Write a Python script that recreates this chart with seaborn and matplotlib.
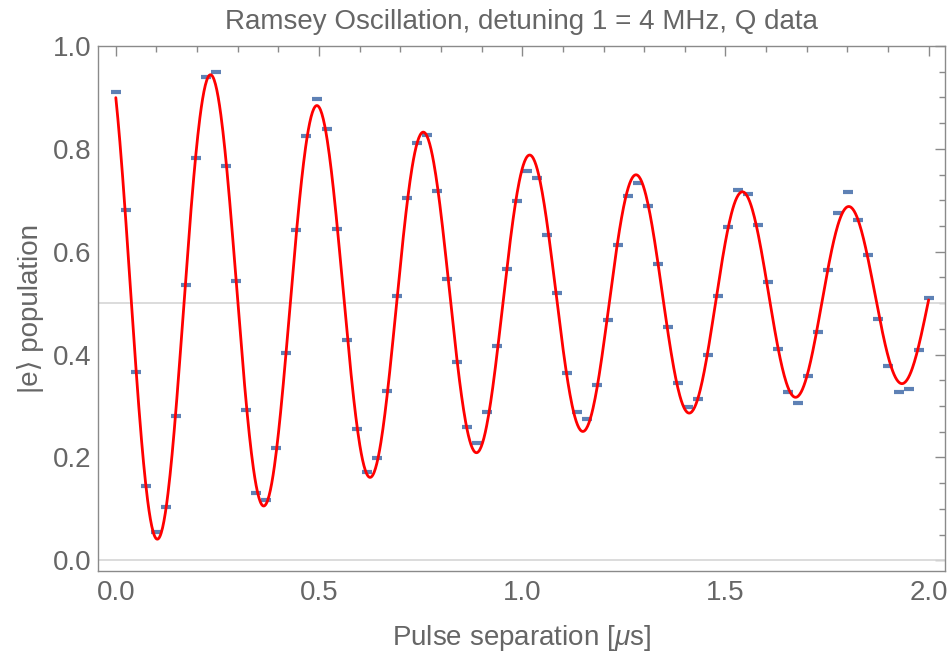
import numpy as np
import pandas as pd
import matplotlib
matplotlib.use("Agg")
import matplotlib.pyplot as plt
import seaborn as sns
from matplotlib.ticker import MultipleLocator

# ---- data ----
# 82 evenly spaced pulse separations from 0 to 2 us
separation_us = np.linspace(0.0, 2.0, 82)
population = [
    0.910, 0.682, 0.367, 0.145, 0.055, 0.103, 0.280, 0.535, 0.782, 0.940,
    0.949, 0.766, 0.543, 0.292, 0.130, 0.117, 0.218, 0.403, 0.642, 0.825,
    0.897, 0.838, 0.645, 0.428, 0.255, 0.172, 0.199, 0.330, 0.514, 0.705,
    0.812, 0.827, 0.719, 0.546, 0.386, 0.260, 0.229, 0.289, 0.416, 0.566,
    0.699, 0.757, 0.744, 0.633, 0.520, 0.365, 0.288, 0.275, 0.340, 0.468,
    0.613, 0.708, 0.733, 0.688, 0.577, 0.454, 0.345, 0.299, 0.313, 0.400,
    0.514, 0.649, 0.720, 0.713, 0.652, 0.541, 0.411, 0.328, 0.305, 0.359,
    0.443, 0.564, 0.676, 0.717, 0.662, 0.594, 0.469, 0.378, 0.327, 0.333,
    0.408, 0.510,
]
x_ticks = [0.0, 0.5, 1.0, 1.5, 2.0]
y_ticks = [0.0, 0.2, 0.4, 0.6, 0.8, 1.0]
title = "Ramsey Oscillation, detuning 1 = 4 MHz, Q data"
x_label = r"Pulse separation [$\mu$s]"
y_label = "|e\u27e9 population"


# ---- least-squares fit of a damped cosine to the data (the red curve) ----
def fit_ramsey(t, y):
    t = np.asarray(t, float)
    y = np.asarray(y, float)

    def solve(f, tau):
        env = np.exp(-t / tau)
        w = 2 * np.pi * f
        X = np.column_stack([np.ones_like(t), env * np.cos(w * t), env * np.sin(w * t)])
        coef, *_ = np.linalg.lstsq(X, y, rcond=None)
        r = y - X @ coef
        return r @ r, coef

    best = (np.inf, None, None, None)
    for f in np.arange(3.5, 4.2, 0.005):
        for tau in np.arange(0.5, 5.0, 0.05):
            s, c = solve(f, tau)
            if s < best[0]:
                best = (s, f, tau, c)
    _, f0, tau0, _ = best
    for f in np.linspace(f0 - 0.006, f0 + 0.006, 25):
        for tau in np.linspace(tau0 - 0.06, tau0 + 0.06, 25):
            s, c = solve(f, tau)
            if s < best[0]:
                best = (s, f, tau, c)
    _, f, tau, c = best

    def model(tt):
        env = np.exp(-tt / tau)
        w = 2 * np.pi * f
        return c[0] + env * (c[1] * np.cos(w * tt) + c[2] * np.sin(w * tt))

    return model


model = fit_ramsey(separation_us, population)
fit_t = np.linspace(0.0, 2.0, 1200)
fit_df = pd.DataFrame({"t": fit_t, "p": model(fit_t)})
data_df = pd.DataFrame({"t": separation_us, "p": population})

# ---- styling ----
sns.set_theme(style="white")
plt.rcParams["font.family"] = ["Liberation Sans", "DejaVu Sans"]
plt.rcParams["mathtext.fontset"] = "custom"
plt.rcParams["mathtext.it"] = "Liberation Sans:italic"
plt.rcParams["mathtext.rm"] = "Liberation Sans"

text_col = "#666666"
frame_col = "#8a8a8a"

fig = plt.figure(figsize=(9.51, 6.59), dpi=100)
ax = fig.add_axes([0.1034, 0.134, 0.8906, 0.7967])

ax.axhline(0.5, color="#d9d9d9", lw=1.3, zorder=1)
ax.axhline(0.0, color="#d9d9d9", lw=1.3, zorder=1)

sns.scatterplot(data=data_df, x="t", y="p", marker="_", s=52, linewidth=3.0,
                color="#5e81b5", ax=ax, zorder=3, legend=False)
sns.lineplot(data=fit_df, x="t", y="p", color="#ff0000", lw=2.0, ax=ax,
             zorder=4, estimator=None, sort=False, legend=False)

ax.set_xlim(-0.043, 2.041)
ax.set_ylim(-0.0202, 1.0006)
ax.set_xticks(x_ticks)
ax.set_yticks(y_ticks)
ax.set_xticklabels([f"{v:.1f}" for v in x_ticks])
ax.set_yticklabels([f"{v:.1f}" for v in y_ticks])
ax.xaxis.set_minor_locator(MultipleLocator(0.1))
ax.yaxis.set_minor_locator(MultipleLocator(0.05))

ax.tick_params(which="both", direction="in", top=True, right=True,
               color=frame_col, width=1.0)
ax.tick_params(which="major", length=7)
ax.tick_params(which="minor", length=4)
ax.tick_params(axis="x", which="major", pad=7, labelsize=20, labelcolor=text_col)
ax.tick_params(axis="y", which="major", pad=5, labelsize=20, labelcolor=text_col)

for sp in ax.spines.values():
    sp.set_color(frame_col)
    sp.set_linewidth(1.0)

ax.set_title(title, fontsize=20, color=text_col, pad=12)
ax.set_xlabel(x_label, fontsize=20, color=text_col, labelpad=12)
ax.set_ylabel(y_label, fontsize=20, color=text_col, labelpad=6)

fig.savefig("out.png", dpi=100)
